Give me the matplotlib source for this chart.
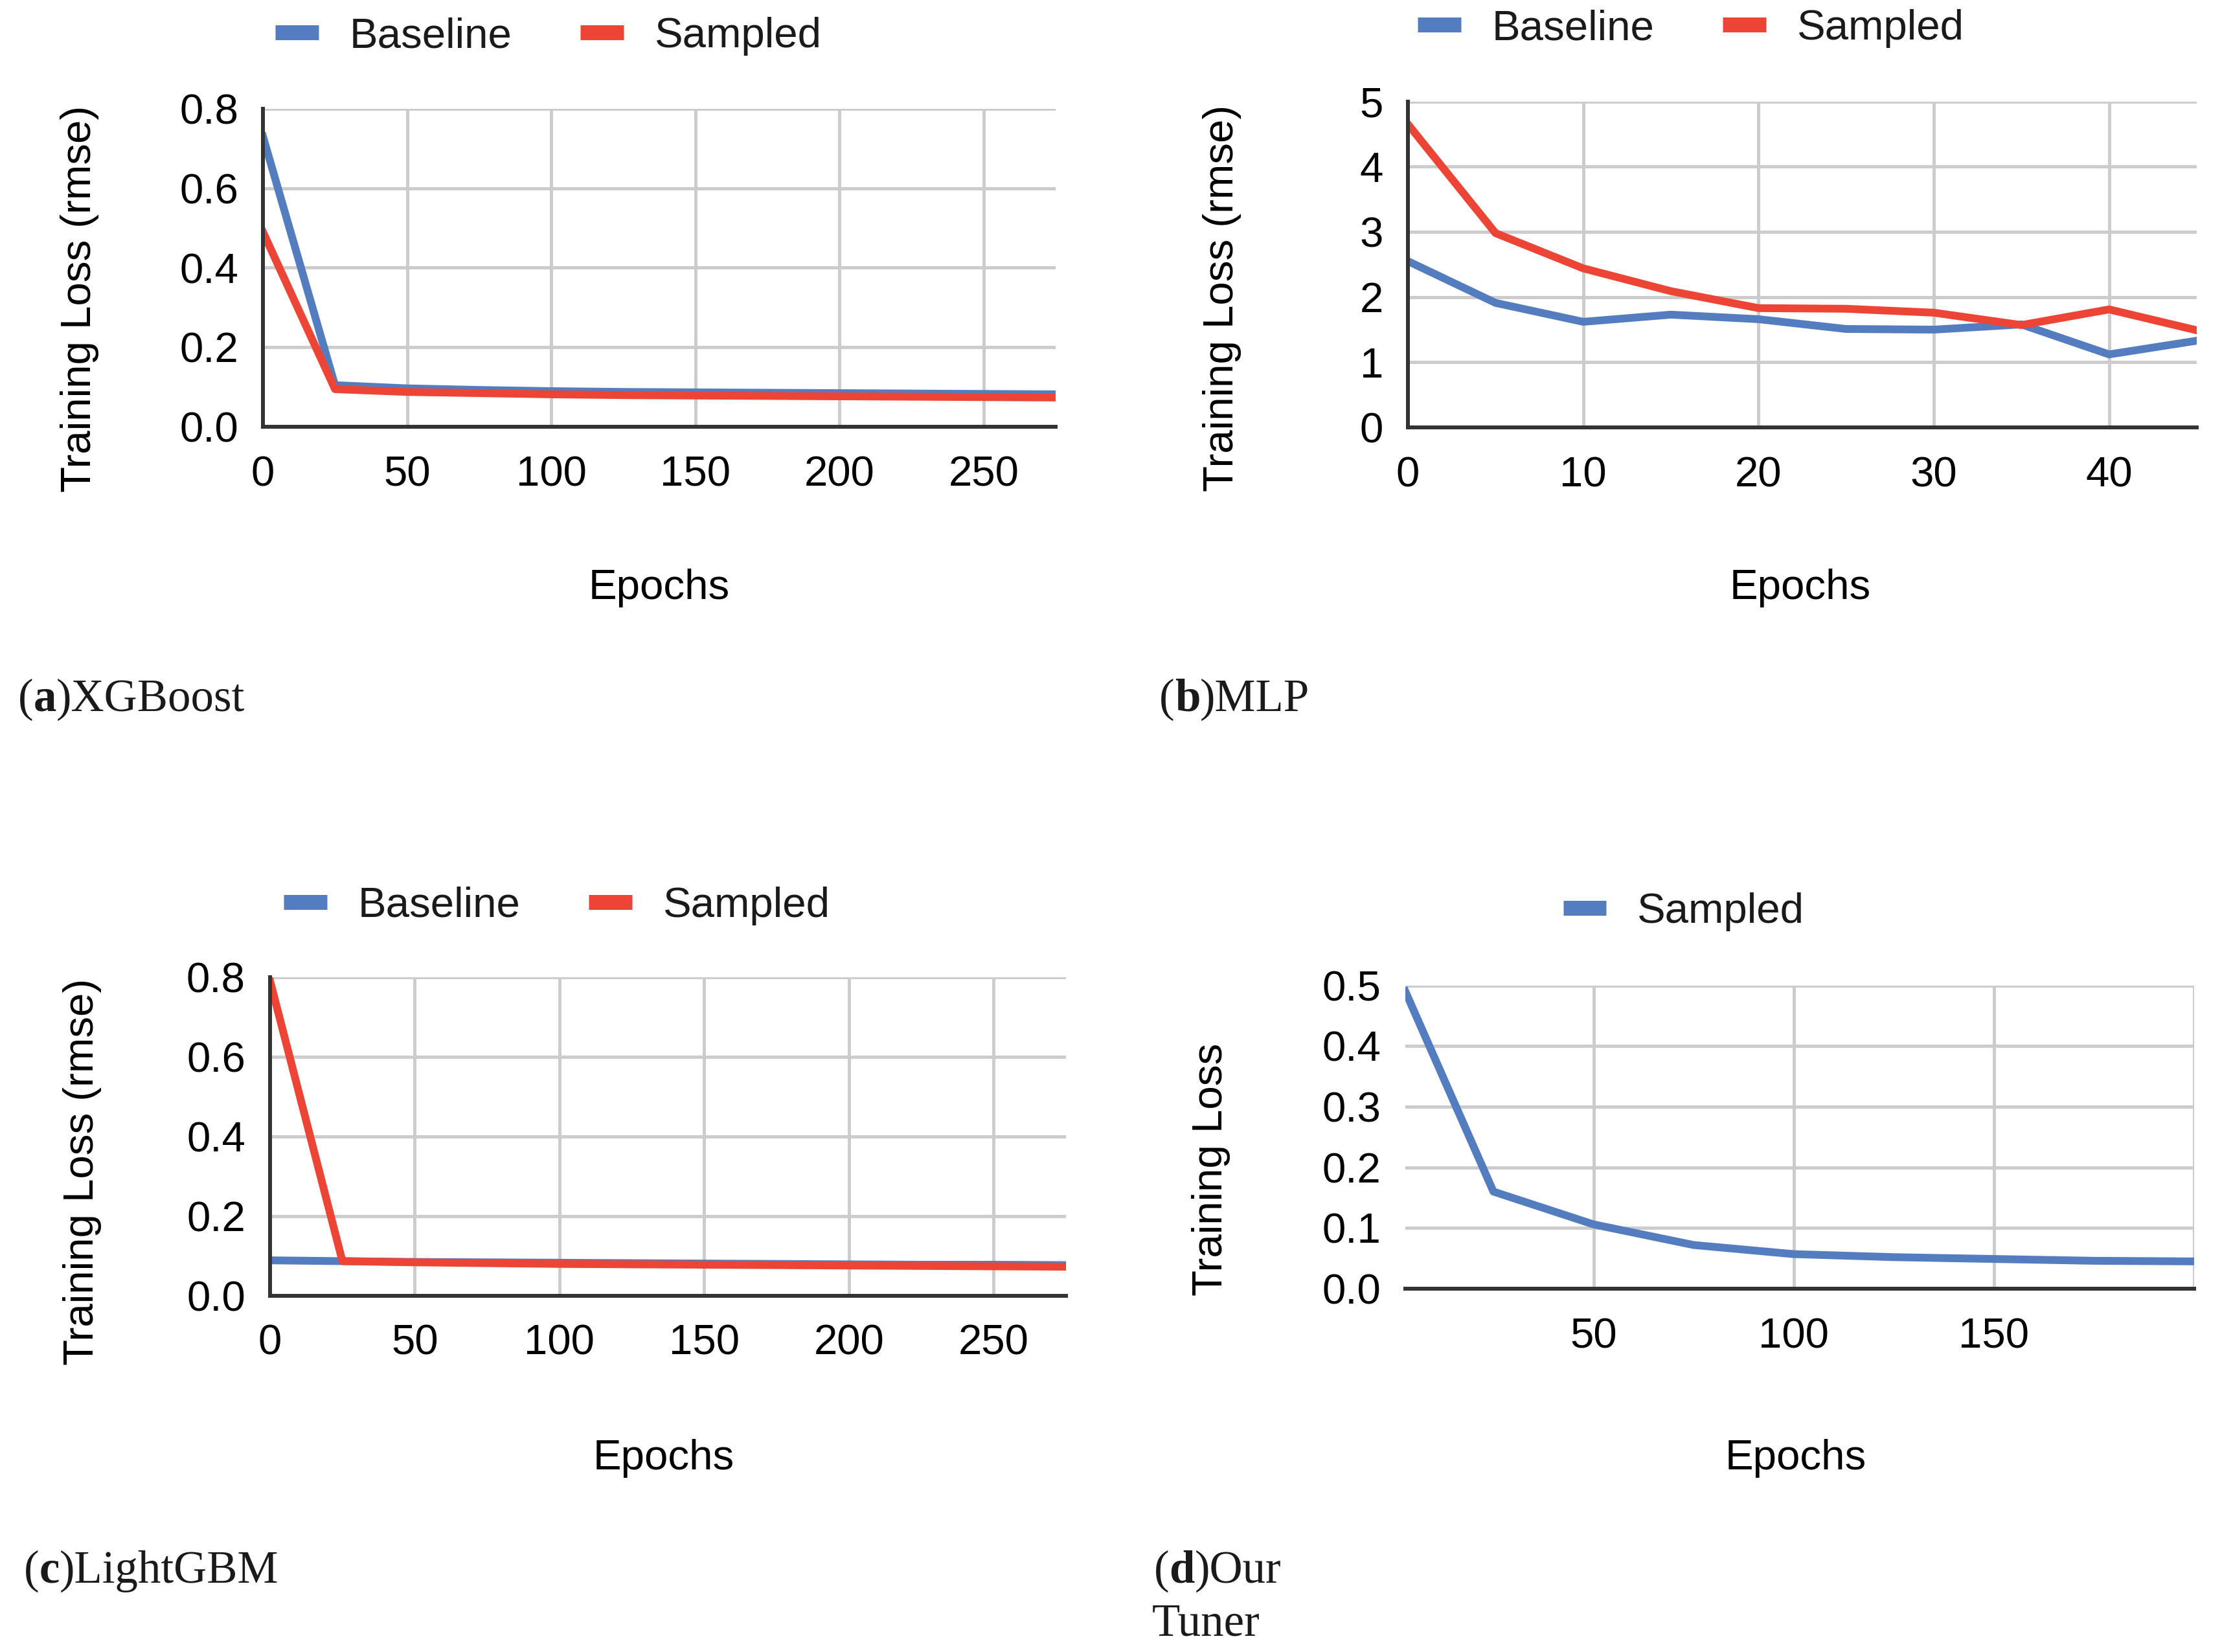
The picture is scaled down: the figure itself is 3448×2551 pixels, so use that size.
import matplotlib
matplotlib.use("Agg")
import matplotlib.pyplot as plt
from matplotlib.lines import Line2D

# ---- data ----
xgb_epochs = [0, 25, 50, 75, 100, 125, 150, 175, 200, 225, 250, 275]
xgb_baseline = [0.73, 0.105, 0.097, 0.093, 0.090, 0.088, 0.087, 0.086, 0.085, 0.084, 0.083, 0.082]
xgb_sampled = [0.49, 0.095, 0.088, 0.085, 0.082, 0.080, 0.079, 0.078, 0.077, 0.076, 0.075, 0.074]

mlp_epochs = [0, 5, 10, 15, 20, 25, 30, 35, 40, 45]
mlp_baseline = [2.55, 1.91, 1.62, 1.73, 1.66, 1.51, 1.50, 1.58, 1.12, 1.33]
mlp_sampled = [4.65, 2.98, 2.44, 2.09, 1.83, 1.82, 1.76, 1.57, 1.81, 1.49]

lgbm_epochs = [0, 25, 50, 75, 100, 125, 150, 175, 200, 225, 250, 275]
lgbm_baseline = [0.089, 0.087, 0.085, 0.084, 0.083, 0.082, 0.081, 0.080, 0.079, 0.078, 0.078, 0.077]
lgbm_sampled = [0.79, 0.087, 0.084, 0.082, 0.080, 0.079, 0.078, 0.077, 0.076, 0.075, 0.074, 0.073]

tuner_epochs = [3, 25, 50, 75, 100, 125, 150, 175, 200]
tuner_sampled = [0.49, 0.16, 0.106, 0.072, 0.057, 0.052, 0.049, 0.046, 0.045]

BLUE = "#547dc0"
RED = "#ec4536"
GRID = "#cccccc"
SPINE = "#333333"

W, H = 3448, 2551
DPI = 300
PX = 72.0 / DPI  # points per pixel

plt.rcParams["font.family"] = ["Liberation Sans", "DejaVu Sans"]
FS = 15.7

fig = plt.figure(figsize=(W / DPI, H / DPI), dpi=DPI)


def box(left, right, top, bottom):
    return [left / W, 1 - bottom / H, (right - left) / W, (bottom - top) / H]


def style(ax, left_spine=True):
    for s in ["top", "right"]:
        ax.spines[s].set_visible(False)
    ax.spines["bottom"].set_color(SPINE)
    ax.spines["bottom"].set_linewidth(6 * PX)
    if left_spine:
        ax.spines["left"].set_color(SPINE)
        ax.spines["left"].set_linewidth(6 * PX)
    else:
        ax.spines["left"].set_visible(False)
    ax.grid(True, color=GRID, linewidth=5 * PX)
    ax.set_axisbelow(True)
    ax.tick_params(axis="both", length=0, labelsize=FS, colors="black")
    ax.tick_params(axis="y", pad=38 * PX)
    ax.tick_params(axis="x", pad=44 * PX)


def legend(cx, cy, items):
    handles = [Line2D([], [], color=c, lw=23 * PX, solid_capstyle="butt") for _, c in items]
    fig.legend(handles, [n for n, _ in items], loc="center",
               bbox_to_anchor=(cx / W, 1 - cy / H), ncol=len(items), frameon=False,
               fontsize=FS, handlelength=1.02, handletextpad=0.73, columnspacing=1.62,
               borderpad=0, labelcolor="#1a1a1a")


def labels(ylab, yx, yy, ex, ey):
    fig.text(yx / W, 1 - yy / H, ylab, rotation=90, ha="center", va="center", fontsize=FS)
    fig.text(ex / W, 1 - ey / H, "Epochs", ha="center", va="center", fontsize=FS)


renderer = fig.canvas.get_renderer()


def caption(x, y, parts):
    xf = x / W
    for txt, bold in parts:
        t = fig.text(xf, 1 - y / H, txt, ha="left", va="baseline", fontsize=17,
                     family=["Liberation Serif", "DejaVu Serif"],
                     weight="bold" if bold else "normal", color="#1a1a1a")
        bb = t.get_window_extent(renderer)
        xf = bb.x1 / fig.bbox.width


lw = 12 * PX

# (a) XGBoost
ax = fig.add_axes(box(406, 1630, 167.7, 659.3))
ax.plot(xgb_epochs, xgb_baseline, color=BLUE, lw=lw)
ax.plot(xgb_epochs, xgb_sampled, color=RED, lw=lw)
ax.set_xlim(0, 275)
ax.set_ylim(0, 0.8)
ax.set_xticks([0, 50, 100, 150, 200, 250])
ax.set_yticks([0, 0.2, 0.4, 0.6, 0.8])
ax.set_yticklabels(["0.0", "0.2", "0.4", "0.6", "0.8"])
style(ax)
legend(847, 56, [("Baseline", BLUE), ("Sampled", RED)])
labels("Training Loss (rmse)", 123, 461, 1018, 908)

# (b) MLP
ax = fig.add_axes(box(2174, 3392, 156.7, 660))
ax.plot(mlp_epochs, mlp_baseline, color=BLUE, lw=lw)
ax.plot(mlp_epochs, mlp_sampled, color=RED, lw=lw)
ax.set_xlim(0, 45)
ax.set_ylim(0, 5)
ax.set_xticks([0, 10, 20, 30, 40])
ax.set_yticks([0, 1, 2, 3, 4, 5])
style(ax)
legend(2611, 44, [("Baseline", BLUE), ("Sampled", RED)])
labels("Training Loss (rmse)", 1887, 460, 2780, 908)

# (c) LightGBM
ax = fig.add_axes(box(417, 1646, 1508.5, 2001))
ax.plot(lgbm_epochs, lgbm_baseline, color=BLUE, lw=lw)
ax.plot(lgbm_epochs, lgbm_sampled, color=RED, lw=lw)
ax.set_xlim(0, 275)
ax.set_ylim(0, 0.8)
ax.set_xticks([0, 50, 100, 150, 200, 250])
ax.set_yticks([0, 0.2, 0.4, 0.6, 0.8])
ax.set_yticklabels(["0.0", "0.2", "0.4", "0.6", "0.8"])
style(ax)
legend(860, 1399, [("Baseline", BLUE), ("Sampled", RED)])
labels("Training Loss (rmse)", 127, 1809, 1025, 2252)

# (d) Our Tuner
ax = fig.add_axes(box(2170, 3388, 1521.5, 1990))
ax.plot(tuner_epochs, tuner_sampled, color=BLUE, lw=lw)
ax.set_xlim(3, 200)
ax.set_ylim(0, 0.5)
ax.set_xticks([50, 100, 150, 200])
ax.set_xticklabels(["50", "100", "150", ""])
ax.set_yticks([0, 0.1, 0.2, 0.3, 0.4, 0.5])
ax.set_yticklabels(["0.0", "0.1", "0.2", "0.3", "0.4", "0.5"])
style(ax, left_spine=False)
legend(2600, 1408, [("Sampled", BLUE)])
labels("Training Loss", 1870, 1806, 2773, 2252)

# captions
caption(28, 1098, [("(", False), ("a", True), (")XGBoost", False)])
caption(1790, 1098, [("(", False), ("b", True), (")MLP", False)])
caption(37, 2444, [("(", False), ("c", True), (")LightGBM", False)])
caption(1782, 2444, [("(", False), ("d", True), (")Our", False)])
caption(1779, 2526, [("Tuner", False)])

fig.savefig("out.png", dpi=DPI)
